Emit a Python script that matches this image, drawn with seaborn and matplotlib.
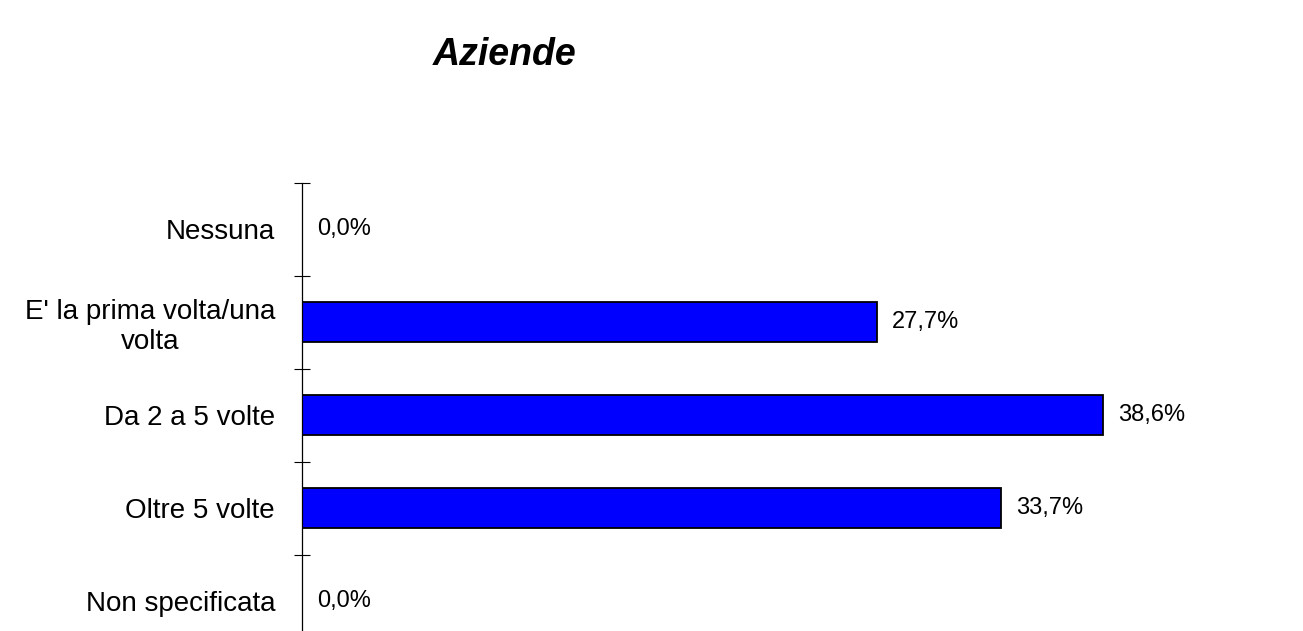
import seaborn as sns
import matplotlib.pyplot as plt
import pandas as pd

# dati
categorie = ["Nessuna", "E' la prima volta/una\nvolta", "Da 2 a 5 volte",
             "Oltre 5 volte", "Non specificata"]
valori = [0.0, 27.7, 38.6, 33.7, 0.0]

df = pd.DataFrame({"categoria": categorie, "valore": valori})

sns.set_style("white")
plt.rcParams["font.family"] = ["Liberation Sans", "DejaVu Sans"]
plt.rcParams["text.color"] = "black"

W, H = 1303, 631
fig = plt.figure(figsize=(W / 100, H / 100), dpi=100)

# posizione assi in pixel (asse verticale a x=302, scala 20.75 px per punto %)
left_px, right_px, top_px = 302, 1250, 182.5
ax = fig.add_axes([left_px / W, 0, (right_px - left_px) / W, (H - top_px) / H])

sns.barplot(data=df, x="valore", y="categoria", orient="h", width=0.42,
            color="#0000FF", saturation=1, edgecolor="black", linewidth=1.3,
            ax=ax)

for s in ["top", "right", "bottom"]:
    ax.spines[s].set_visible(False)
ax.spines["left"].set_color("black")
ax.spines["left"].set_linewidth(0.9)

ax.set_xticks([])
ax.set_xlabel("")
ax.set_ylabel("")

# tacche a croce sui confini delle categorie
ax.set_yticks([i - 0.5 for i in range(len(categorie) + 1)], minor=True)
ax.tick_params(axis="y", which="minor", left=True, direction="inout",
               length=12.2, width=0.8, color="black")
ax.tick_params(axis="y", which="major", left=True, length=0, pad=19.4,
               labelsize=20, labelcolor="black")
for lab in ax.get_yticklabels():
    lab.set_multialignment("center")

ax.set_xlim(0, (right_px - left_px) / 20.75)
ax.set_ylim((H - top_px) / 93 - 0.5, -0.5)

etichette = [f"{v:.1f}".replace(".", ",") + "%" for v in valori]
ax.bar_label(ax.containers[0], labels=etichette, padding=10.8, fontsize=17,
             color="black")

fig.text(505 / W, 1 - 65 / H, "Aziende", ha="center", va="baseline",
         fontsize=27, fontweight="bold", fontstyle="italic", color="black")

fig.savefig("out.png", dpi=100)
